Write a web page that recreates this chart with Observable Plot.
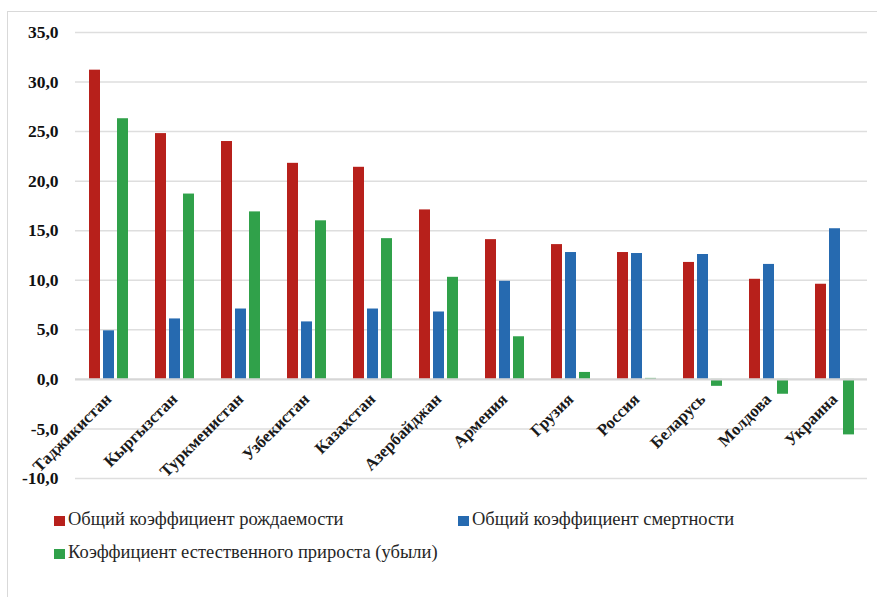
<!DOCTYPE html>
<html>
<head>
<meta charset="utf-8">
<script src="https://cdn.jsdelivr.net/npm/d3@7"></script>
<script src="https://cdn.jsdelivr.net/npm/@observablehq/plot@0.6"></script>
<style>
  html, body { margin: 0; padding: 0; background: #fff; }
  #wrap { position: relative; width: 877px; height: 597px; overflow: hidden; font-family: "Liberation Serif", "DejaVu Serif", serif; }
  #frame { position: absolute; left: 7px; top: 11px; right: -2px; bottom: -2px; border-left: 1.5px solid #d9d9d9; border-top: 1.5px solid #d9d9d9; }
  #chart { position: absolute; left: 0; top: 0; }
  #chart svg text { font-family: "Liberation Serif", "DejaVu Serif", serif; }
  .item { position: absolute; font-size: 18.5px; color: #262626; line-height: 20px; white-space: nowrap; font-family: "Liberation Serif", "DejaVu Serif", serif; }
  .sw { position: absolute; width: 11px; height: 10px; }
</style>
</head>
<body>
<div id="wrap">
  <div id="frame"></div>
  <div id="chart"></div>
  <div id="legend"></div>
</div>
<script>
// Countries of the CIS region, ordered by crude birth rate
const countries = ["Таджикистан", "Кыргызстан", "Туркменистан", "Узбекистан", "Казахстан", "Азербайджан",
                   "Армения", "Грузия", "Россия", "Беларусь", "Молдова", "Украина"];
const series = ["Общий коэффициент рождаемости", "Общий коэффициент смертности", "Коэффициент естественного прироста (убыли)"];
const colors = ["#b7201b", "#266ab0", "#30a14a"];

// per 1000 population
const birthRate   = [31.2, 24.8, 24.0, 21.8, 21.4, 17.1, 14.1, 13.6, 12.8, 11.8, 10.1, 9.6];
const deathRate   = [4.9, 6.1, 7.1, 5.8, 7.1, 6.8, 9.9, 12.8, 12.7, 12.6, 11.6, 15.2];
const naturalRate = [26.3, 18.7, 16.9, 16.0, 14.2, 10.3, 4.3, 0.7, 0.1, -0.7, -1.5, -5.6];

const yTicks = [-10, -5, 0, 5, 10, 15, 20, 25, 30, 35];

const rows = [];
countries.forEach((c, i) => {
  rows.push({country: c, series: series[0], value: birthRate[i]});
  rows.push({country: c, series: series[1], value: deathRate[i]});
  rows.push({country: c, series: series[2], value: naturalRate[i]});
});

const fmt = d => d.toFixed(1).replace(".", ",");

const chart = Plot.plot({
  width: 877,
  height: 490,
  marginLeft: 75,
  marginRight: 10,
  marginTop: 32,
  marginBottom: 12,
  style: {fontFamily: "'Liberation Serif', 'DejaVu Serif', serif", background: "transparent", color: "#111"},
  fx: {domain: countries, padding: 0, axis: null},
  x: {domain: series, paddingInner: 0.22, paddingOuter: 0.855, axis: null},
  y: {domain: [-10, 35], axis: null},
  color: {domain: series, range: colors},
  marks: [
    Plot.ruleY(yTicks.filter(d => d !== 0), {stroke: "#dedede", strokeWidth: 1.5}),
    Plot.axisY({ticks: yTicks, label: null, tickSize: 0, tickPadding: 17, fontSize: 17.5, fontWeight: "bold", tickFormat: fmt, facetAnchor: "left"}),
    Plot.barY(rows, {fx: "country", x: "series", y: "value", fill: "series"}),
    Plot.ruleY([0], {stroke: "#d6d6d6", strokeWidth: 2.2}),
    Plot.text(countries, {fx: d => d, y: 0, text: d => d, rotate: -45, textAnchor: "end", lineAnchor: "middle",
                          dx: 0, dy: 17, fontSize: 16.8, fontWeight: "bold", fill: "#1a1a1a"})
  ]
});
document.getElementById("chart").append(chart);

// Legend below the chart
const legendItems = [
  {label: series[0], color: colors[0], left: 54, top: 516},
  {label: series[1], color: colors[1], left: 458, top: 516},
  {label: series[2], color: colors[2], left: 54, top: 549}
];
const legend = document.getElementById("legend");
legendItems.forEach(it => {
  const sw = document.createElement("div");
  sw.className = "sw";
  sw.style.left = it.left + "px";
  sw.style.top = it.top + "px";
  sw.style.background = it.color;
  legend.append(sw);
  const t = document.createElement("div");
  t.className = "item";
  t.style.left = (it.left + 14) + "px";
  t.style.top = (it.top - 7) + "px";
  t.textContent = it.label;
  legend.append(t);
});
</script>
</body>
</html>
